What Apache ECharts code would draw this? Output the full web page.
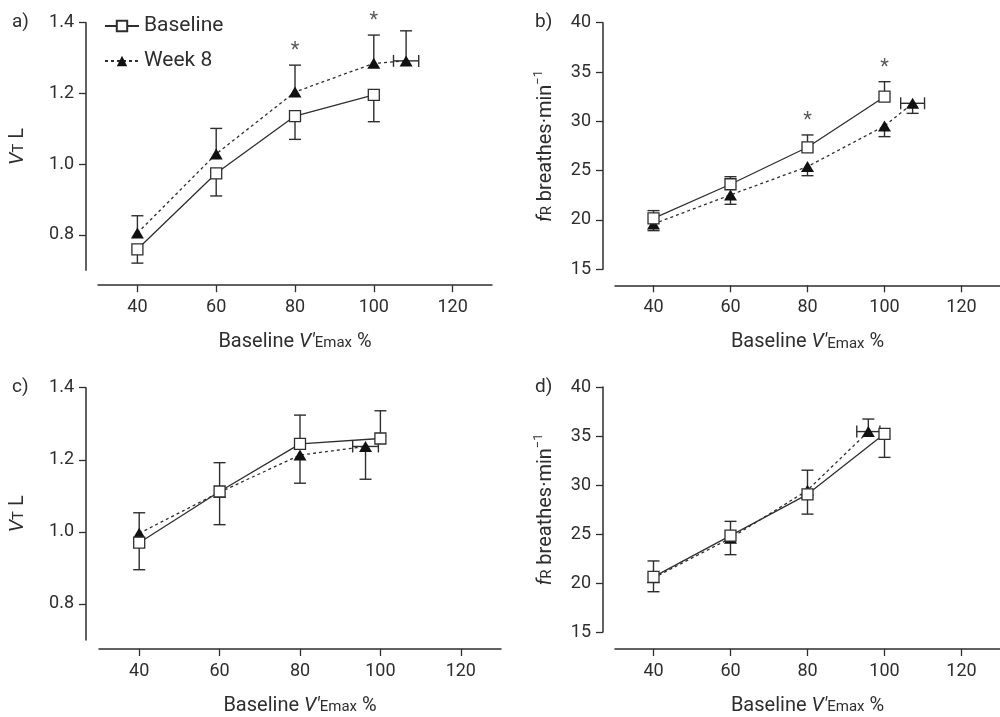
<!DOCTYPE html>
<html>
<head>
<meta charset="utf-8">
<script src="https://cdn.jsdelivr.net/npm/echarts@6/dist/echarts.min.js"></script>
<style>
  html, body { margin: 0; padding: 0; background: #fff; }
  #chart { width: 1000px; height: 717px; }
</style>
</head>
<body>
<div id="chart"></div>
<script>
// tick labels
const xTicks = [40, 60, 80, 100, 120]
const vtTicks = [0.8, 1.0, 1.2, 1.4]
const frTicks = [15, 20, 25, 30, 35, 40]

// a) VT, signed error = direction of the drawn whisker
const aBaseX = [40, 60, 80, 100]
const aBaseY = [0.759, 0.974, 1.136, 1.196]
const aBaseErr = [-0.039, -0.064, -0.066, -0.076]
const aWk8X = [40, 60, 80, 100, 108.2]
const aWk8Y = [0.805, 1.029, 1.204, 1.285, 1.292]
const aWk8Err = [0.049, 0.072, 0.076, 0.080, 0.085]
const aWk8XErr = [0, 0, 0, 0, 3.2]
const aStars = [80, 100]

// b) fR
const bBaseX = [40, 60, 80, 100]
const bBaseY = [20.17, 23.62, 27.37, 32.50]
const bBaseErr = [0.78, 0.77, 1.25, 1.52]
const bWk8X = [40, 60, 80, 100, 107.3]
const bWk8Y = [19.60, 22.54, 25.41, 29.53, 31.83]
const bWk8Err = [-0.68, -0.95, -0.92, -1.08, -1.02]
const bWk8XErr = [0, 0, 0, 0, 3.1]
const bStars = [80, 100]

// c) VT
const cBaseX = [40, 60, 80, 100]
const cBaseY = [0.970, 1.112, 1.244, 1.259]
const cBaseErr = [-0.075, 0.080, 0.080, 0.077]
const cWk8X = [40, 60, 80, 96.3]
const cWk8Y = [0.996, 1.110, 1.213, 1.237]
const cWk8Err = [0.057, -0.090, -0.078, -0.091]
const cWk8XErr = [0, 0, 0, 3.2]
const cStars = []

// d) fR
const dBaseX = [40, 60, 80, 100]
const dBaseY = [20.63, 24.84, 29.05, 35.22]
const dBaseErr = [-1.52, -1.95, -2.02, -2.40]
const dWk8X = [40, 60, 80, 95.8]
const dWk8Y = [20.53, 24.57, 29.46, 35.45]
const dWk8Err = [1.72, 1.72, 2.05, 1.28]
const dWk8XErr = [0, 0, 0, 3.0]
const dStars = []

const INK = '#2e2e2e'
const FONT = 'Roboto, "Liberation Sans", sans-serif'

const xName = '{n|Baseline }{i|V′}{s|Emax}{n| %}'
const vtName = '{i|V}{s|T}{n| L}'
const frName = '{i|f}{s|R}{n| breathes·min}{p|−1}'

const rich = {
  n: { fontSize: 20, color: INK, fontFamily: FONT, lineHeight: 24, verticalAlign: 'bottom' },
  i: { fontSize: 20, color: INK, fontFamily: FONT, fontStyle: 'italic', lineHeight: 24, verticalAlign: 'bottom' },
  s: { fontSize: 15, color: INK, fontFamily: FONT, lineHeight: 24, verticalAlign: 'bottom', padding: [0, 0, 1, 0] },
  p: { fontSize: 13, color: INK, fontFamily: FONT, lineHeight: 24, verticalAlign: 'top' }
}

const panels = [
  { tag: 'a)', tagPos: [12, 13], grid: { left: 98, top: 22.7, width: 394, height: 247.5 },
    yMin: 0.7, yMax: 1.4, yTicks: vtTicks, dec: 1, yOff: 12, xOff: 15, yName: vtName, yGap: 58,
    base: [aBaseX, aBaseY, aBaseErr, null], wk8: [aWk8X, aWk8Y, aWk8Err, aWk8XErr], stars: aStars },
  { tag: 'b)', tagPos: [535, 13], grid: { left: 615, top: 22.7, width: 393, height: 246.6 },
    yMin: 15, yMax: 40, yTicks: frTicks, dec: 0, yOff: 12, xOff: 16, yName: frName, yGap: 47,
    base: [bBaseX, bBaseY, bBaseErr, null], wk8: [bWk8X, bWk8Y, bWk8Err, bWk8XErr], stars: bStars },
  { tag: 'c)', tagPos: [12, 378], grid: { left: 99, top: 387.7, width: 402, height: 254 },
    yMin: 0.7, yMax: 1.4, yTicks: vtTicks, dec: 1, yOff: 13, xOff: 9, yName: vtName, yGap: 58,
    base: [cBaseX, cBaseY, cBaseErr, null], wk8: [cWk8X, cWk8Y, cWk8Err, cWk8XErr], stars: cStars },
  { tag: 'd)', tagPos: [535, 378], grid: { left: 615, top: 387, width: 393, height: 247.3 },
    yMin: 15, yMax: 40, yTicks: frTicks, dec: 0, yOff: 12, xOff: 17, yName: frName, yGap: 47,
    base: [dBaseX, dBaseY, dBaseErr, null], wk8: [dWk8X, dWk8Y, dWk8Err, dWk8XErr], stars: dStars }
]

// whiskers (one-sided) plus optional horizontal bar
function renderErr(params, api) {
  const x = api.value(0), y = api.value(1), e = api.value(2), xe = api.value(3)
  const p = api.coord([x, y])
  const style = { stroke: INK, lineWidth: 1.4, fill: null }
  const kids = []
  if (e) {
    const q = api.coord([x, y + e])
    kids.push({ type: 'line', shape: { x1: p[0], y1: p[1], x2: q[0], y2: q[1] }, style })
    kids.push({ type: 'line', shape: { x1: q[0] - 6, y1: q[1], x2: q[0] + 6, y2: q[1] }, style })
  }
  if (xe) {
    const l = api.coord([x - xe, y])
    const r = api.coord([x + xe, y])
    kids.push({ type: 'line', shape: { x1: l[0], y1: l[1], x2: r[0], y2: r[1] }, style })
    kids.push({ type: 'line', shape: { x1: l[0], y1: l[1] - 6, x2: l[0], y2: l[1] + 6 }, style })
    kids.push({ type: 'line', shape: { x1: r[0], y1: r[1] - 6, x2: r[0], y2: r[1] + 6 }, style })
  }
  return { type: 'group', children: kids }
}

function topAt(x, sets) {
  let best = -Infinity
  sets.forEach(s => {
    const i = s[0].indexOf(x)
    if (i >= 0) best = Math.max(best, s[1][i] + Math.max(s[2][i], 0))
  })
  return best
}

const grid = [], xAxis = [], yAxis = [], series = [], graphic = []

panels.forEach((pn, k) => {
  grid.push(pn.grid)
  xAxis.push({
    gridIndex: k, type: 'value', min: 30, max: 130, offset: pn.xOff,
    axisLine: { show: true, onZero: false, lineStyle: { color: INK, width: 1.5 } },
    axisTick: { show: true, length: 7, customValues: xTicks, lineStyle: { color: INK, width: 1.3 } },
    axisLabel: { customValues: xTicks, margin: 13, fontSize: 18, color: INK, fontFamily: FONT },
    splitLine: { show: false },
    name: xName, nameLocation: 'middle', nameGap: 43,
    nameTextStyle: { rich }
  })
  yAxis.push({
    gridIndex: k, type: 'value', min: pn.yMin, max: pn.yMax, offset: pn.yOff,
    axisLine: { show: true, lineStyle: { color: INK, width: 1.5 } },
    axisTick: { show: true, length: 7, customValues: pn.yTicks, lineStyle: { color: INK, width: 1.3 } },
    axisLabel: { customValues: pn.yTicks, margin: 12, fontSize: 18, color: INK, fontFamily: FONT,
      formatter: v => Number(v).toFixed(pn.dec) },
    splitLine: { show: false },
    name: pn.yName, nameLocation: 'middle', nameGap: pn.yGap, nameRotate: 90,
    nameTextStyle: { rich }
  })

  const [bx, by, be] = pn.base
  const [wx, wy, we, wxe] = pn.wk8

  series.push({
    type: 'custom', xAxisIndex: k, yAxisIndex: k, z: 1, silent: true,
    renderItem: renderErr,
    data: bx.map((x, i) => [x, by[i], be[i], 0])
  })
  series.push({
    type: 'custom', xAxisIndex: k, yAxisIndex: k, z: 1, silent: true,
    renderItem: renderErr,
    data: wx.map((x, i) => [x, wy[i], we[i], wxe[i]])
  })
  series.push({
    name: 'Week 8', type: 'line', xAxisIndex: k, yAxisIndex: k, z: 3,
    data: wx.map((x, i) => [x, wy[i]]),
    symbol: 'triangle', symbolSize: [13, 11], showAllSymbol: true,
    lineStyle: { color: INK, width: 1.3, type: [3, 3] },
    itemStyle: { color: '#111', borderWidth: 0 },
    animation: false
  })
  series.push({
    name: 'Baseline', type: 'line', xAxisIndex: k, yAxisIndex: k, z: 4,
    data: bx.map((x, i) => [x, by[i]]),
    symbol: 'rect', symbolSize: 11, showAllSymbol: true,
    lineStyle: { color: INK, width: 1.3 },
    itemStyle: { color: '#fff', borderColor: INK, borderWidth: 1.3 },
    animation: false
  })
  if (pn.stars.length) {
    series.push({
      type: 'scatter', xAxisIndex: k, yAxisIndex: k, z: 5, silent: true,
      symbolSize: 0,
      data: pn.stars.map(x => [x, topAt(x, [pn.base, pn.wk8])]),
      label: { show: true, position: 'top', distance: 4, formatter: '*',
        fontSize: 20, color: INK, fontFamily: FONT }
    })
  }

  graphic.push({
    type: 'text', left: pn.tagPos[0], top: pn.tagPos[1],
    style: { text: pn.tag, fontSize: 19, fill: INK, fontFamily: FONT }
  })
})

const chart = echarts.init(document.getElementById('chart'))
chart.setOption({
  animation: false,
  backgroundColor: '#fff',
  grid, xAxis, yAxis, series, graphic,
  legend: {
    data: ['Baseline', 'Week 8'],
    orient: 'vertical', left: 99, top: 10,
    itemWidth: 34, itemHeight: 13, itemGap: 13,
    textStyle: { fontSize: 21, color: INK, fontFamily: FONT, lineHeight: 22 },
    selectedMode: false
  }
})
</script>
</body>
</html>
